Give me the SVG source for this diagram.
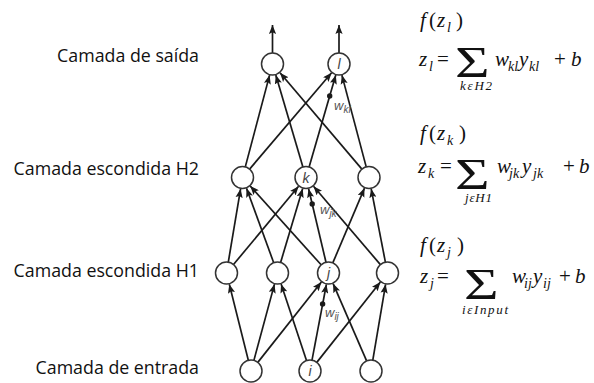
<svg xmlns="http://www.w3.org/2000/svg" width="594" height="383" viewBox="0 0 594 383">
<defs>
<style>
.lbl{font-family:"Open Sans","Liberation Sans",sans-serif;font-size:17.8px;fill:#111;text-anchor:end}
.nd{fill:#fff;stroke:#333;stroke-width:1.5}
.nl{font-family:"Liberation Sans",Arial,sans-serif;font-style:italic;font-size:14px;fill:#444;text-anchor:middle}
.e{stroke:#1a1a1a;stroke-width:1.7;fill:none;marker-end:url(#ah)}
.wl{font-family:"Liberation Sans",Arial,sans-serif;font-style:italic;font-size:13px;fill:#555}
.ws{font-size:10px}
.m{font-family:"Liberation Serif","DejaVu Serif",serif;font-size:21px;fill:#111}
.i{font-style:italic}
.sb{font-size:14px;font-style:italic}
.sg{font-family:"Liberation Serif","DejaVu Serif",serif;font-size:44px;fill:#111}
.lim{font-family:"Liberation Serif","DejaVu Serif",serif;font-size:13px;font-style:italic;fill:#111}
</style>
<marker id="ah" viewBox="0 0 10 8" refX="10" refY="4" markerWidth="9" markerHeight="7.5" orient="auto" markerUnits="userSpaceOnUse">
<path d="M0,0 L10,4 L0,8 L2,4 z" fill="#1a1a1a"/>
</marker>
</defs>
<rect width="594" height="383" fill="#fff"/>

<g id="labels">
<text class="lbl" x="199" y="62">Camada de saída</text>
<text class="lbl" x="199" y="175">Camada escondida H2</text>
<text class="lbl" x="199" y="277">Camada escondida H1</text>
<text class="lbl" x="199" y="374">Camada de entrada</text>
</g>

<g id="connectors">
<line class="e" x1="248.3" y1="360.3" x2="229.3" y2="284.2"/>
<line class="e" x1="253.9" y1="360.4" x2="274.5" y2="284.1"/>
<line class="e" x1="257.8" y1="362.4" x2="321.4" y2="282.0"/>
<line class="e" x1="306.5" y1="360.6" x2="281.1" y2="283.9"/>
<line class="e" x1="312.0" y1="360.2" x2="326.4" y2="284.3"/>
<line class="e" x1="316.8" y1="362.4" x2="380.4" y2="282.0"/>
<line class="e" x1="366.6" y1="360.9" x2="333.1" y2="283.6"/>
<line class="e" x1="372.8" y1="360.2" x2="385.6" y2="284.3"/>
<line class="e" x1="228.3" y1="262.1" x2="240.6" y2="188.8"/>
<line class="e" x1="233.5" y1="264.5" x2="298.6" y2="186.3"/>
<line class="e" x1="273.7" y1="262.7" x2="246.5" y2="188.3"/>
<line class="e" x1="280.6" y1="262.5" x2="302.7" y2="188.5"/>
<line class="e" x1="321.1" y1="264.8" x2="250.2" y2="186.0"/>
<line class="e" x1="326.0" y1="262.3" x2="308.6" y2="188.7"/>
<line class="e" x1="332.8" y1="262.9" x2="364.5" y2="188.1"/>
<line class="e" x1="380.4" y1="264.6" x2="313.5" y2="186.2"/>
<line class="e" x1="385.4" y1="262.2" x2="371.2" y2="188.8"/>
<line class="e" x1="245.3" y1="166.9" x2="269.6" y2="75.1"/>
<line class="e" x1="249.6" y1="169.1" x2="331.6" y2="72.8"/>
<line class="e" x1="302.9" y1="167.0" x2="275.8" y2="75.0"/>
<line class="e" x1="309.1" y1="166.9" x2="335.8" y2="75.0"/>
<line class="e" x1="361.9" y1="169.1" x2="280.0" y2="72.8"/>
<line class="e" x1="366.2" y1="166.9" x2="341.9" y2="75.1"/>
<line class="e" x1="272.5" y1="53" x2="272.5" y2="25"/>
<line class="e" x1="339" y1="53" x2="339" y2="25"/>
<circle cx="322.6" cy="304" r="2.7" fill="#1a1a1a"/>
<circle cx="312.2" cy="204" r="2.7" fill="#1a1a1a"/>
<circle cx="329.7" cy="96" r="2.7" fill="#1a1a1a"/>
<text class="wl" x="325" y="317">w<tspan class="ws" dy="3">ij</tspan></text>
<text class="wl" x="320" y="214">w<tspan class="ws" dy="3">jk</tspan></text>
<text class="wl" x="334" y="110">w<tspan class="ws" dy="3">kl</tspan></text>
</g>

<g id="out1"><circle class="nd" cx="272.5" cy="64" r="11"/></g>
<g id="out2"><circle class="nd" cx="339" cy="64" r="11"/><text class="nl" x="339" y="69">l</text></g>
<g id="h2a"><circle class="nd" cx="242.5" cy="177.5" r="11"/></g>
<g id="h2k"><circle class="nd" cx="306" cy="177.5" r="11"/><text class="nl" x="306" y="182.5">k</text></g>
<g id="h2c"><circle class="nd" cx="369" cy="177.5" r="11"/></g>
<g id="h1a"><circle class="nd" cx="226.5" cy="273" r="11"/></g>
<g id="h1b"><circle class="nd" cx="277.5" cy="273" r="11"/></g>
<g id="h1j"><circle class="nd" cx="328.5" cy="273" r="11"/><text class="nl" x="328.5" y="278">j</text></g>
<g id="h1d"><circle class="nd" cx="387.5" cy="273" r="11"/></g>
<g id="ina"><circle class="nd" cx="251" cy="371" r="11"/></g>
<g id="ini"><circle class="nd" cx="310" cy="371" r="11"/><text class="nl" x="310" y="376">i</text></g>
<g id="inc"><circle class="nd" cx="371" cy="371" r="11"/></g>

<g id="formula-l">
<text class="m"><tspan class="i" x="420" y="27">f</tspan><tspan x="429" y="27">(</tspan><tspan class="i" x="437" y="27">z</tspan><tspan class="sb" x="447" y="32">l</tspan><tspan x="456" y="27">)</tspan></text>
<text class="m"><tspan class="i" x="419" y="66">z</tspan><tspan class="sb" x="429" y="71">l</tspan><tspan x="437" y="66">=</tspan><tspan class="i" x="495" y="66">w</tspan><tspan class="sb" x="508" y="71">kl</tspan><tspan class="i" x="519" y="66">y</tspan><tspan class="sb" x="529" y="71">kl</tspan><tspan x="554" y="66">+</tspan><tspan class="i" x="571" y="66">b</tspan></text>
<text class="sg" transform="translate(455,77) scale(1.35,1)">Σ</text>
<text class="lim" x="460" y="90" textLength="32" lengthAdjust="spacing">kεH2</text>
</g>
<g id="formula-k">
<text class="m"><tspan class="i" x="420" y="140">f</tspan><tspan x="429" y="140">(</tspan><tspan class="i" x="437" y="140">z</tspan><tspan class="sb" x="447" y="145">k</tspan><tspan x="459" y="140">)</tspan></text>
<text class="m"><tspan class="i" x="418" y="173">z</tspan><tspan class="sb" x="428" y="178">k</tspan><tspan x="440" y="173">=</tspan><tspan class="i" x="497" y="173">w</tspan><tspan class="sb" x="509" y="178">jk</tspan><tspan class="i" x="522" y="173">y</tspan><tspan class="sb" x="533" y="178">jk</tspan><tspan x="563" y="173">+</tspan><tspan class="i" x="579" y="173">b</tspan></text>
<text class="sg" transform="translate(455,189) scale(1.35,1)">Σ</text>
<text class="lim" x="465" y="202" textLength="27" lengthAdjust="spacing">jεH1</text>
</g>
<g id="formula-j">
<text class="m"><tspan class="i" x="420" y="252">f</tspan><tspan x="429" y="252">(</tspan><tspan class="i" x="437" y="252">z</tspan><tspan class="sb" x="447" y="257">j</tspan><tspan x="457" y="252">)</tspan></text>
<text class="m"><tspan class="i" x="420" y="283">z</tspan><tspan class="sb" x="430" y="288">j</tspan><tspan x="437" y="283">=</tspan><tspan class="i" x="512" y="283">w</tspan><tspan class="sb" x="524" y="288">ij</tspan><tspan class="i" x="533" y="283">y</tspan><tspan class="sb" x="543" y="288">ij</tspan><tspan x="559" y="283">+</tspan><tspan class="i" x="575" y="283">b</tspan></text>
<text class="sg" transform="translate(464,299) scale(1.35,1)">Σ</text>
<text class="lim" x="462" y="314" textLength="46" lengthAdjust="spacing">iεInput</text>
</g>
</svg>
